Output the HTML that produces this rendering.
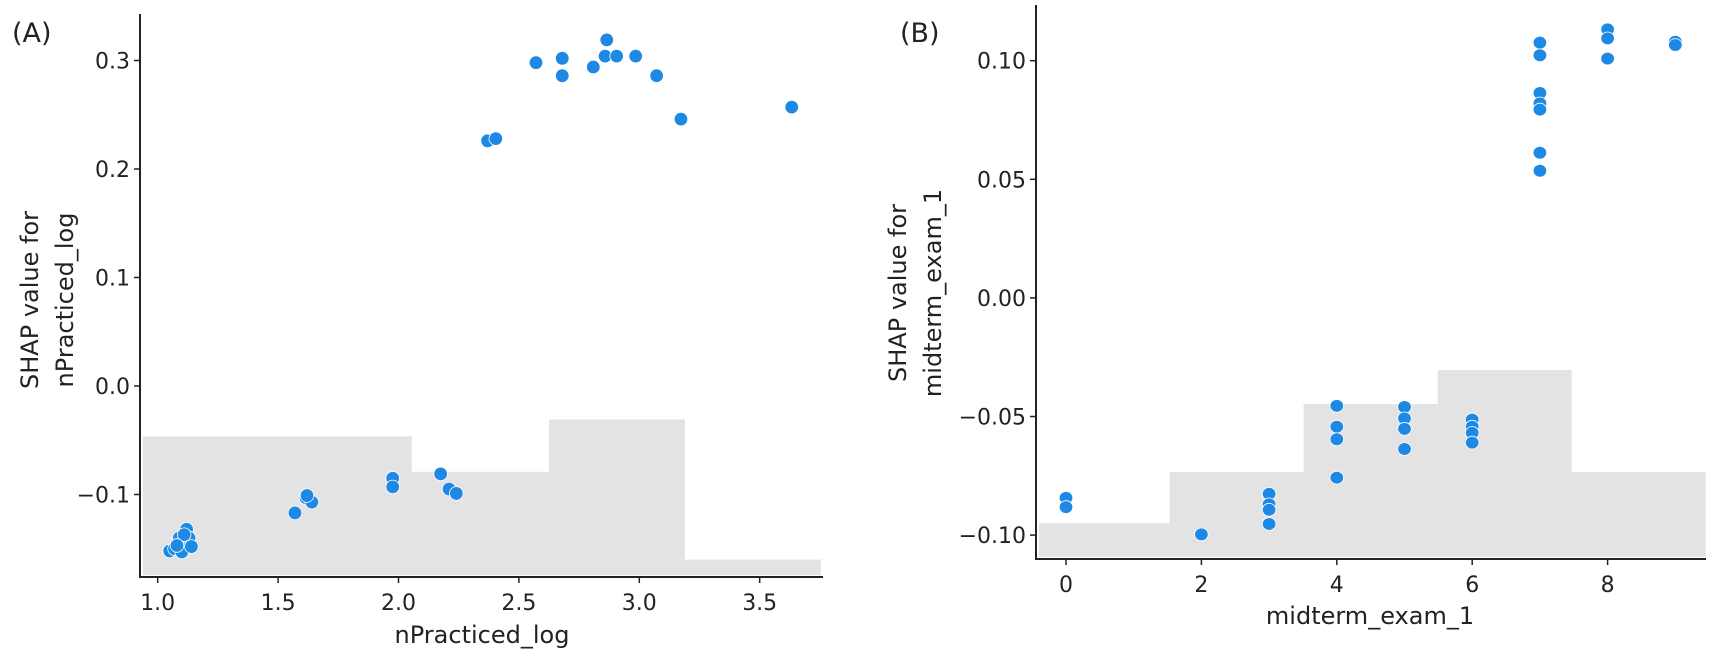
<!DOCTYPE html>
<html><head><meta charset="utf-8">
<style>
html,body{margin:0;padding:0;background:#fff;}
svg{display:block;font-family:"DejaVu Sans","Liberation Sans",sans-serif;}
</style></head>
<body>
<svg id="chart" width="1712" height="655" viewBox="0 0 1712 655"></svg>
<script>
// ---- Panel A data ----
const aX = [1.05,1.07,1.09,1.10,1.12,1.13,1.10,1.14,1.11,1.08,1.57,1.616,1.64,1.62,1.976,1.976,2.175,2.21,2.24,2.37,2.404,2.571,2.68,2.68,2.809,2.865,2.858,2.906,2.985,3.072,3.173,3.633];
const aY = [-0.152,-0.150,-0.140,-0.146,-0.132,-0.140,-0.153,-0.148,-0.137,-0.147,-0.117,-0.103,-0.107,-0.101,-0.085,-0.093,-0.081,-0.095,-0.099,0.226,0.228,0.298,0.302,0.286,0.294,0.319,0.304,0.304,0.304,0.286,0.246,0.257];
const aBinEdges = [0.938,2.055,2.625,3.189,3.754];
const aBinCounts = [9,6.7,10.1,1];
const aXTicks = [1.0,1.5,2.0,2.5,3.0,3.5];
const aXTickLabels = ["1.0","1.5","2.0","2.5","3.0","3.5"];
const aYTicks = [0.3,0.2,0.1,0.0,-0.1];
const aYTickLabels = ["0.3","0.2","0.1","0.0","\u22120.1"];
// ---- Panel B data ----
const bX = [0,0,2,3,3,3,3,4,4,4,4,5,5,5,5,6,6,6,6,7,7,7,7,7,7,7,8,8,8,9,9];
const bY = [-0.0843,-0.0882,-0.0997,-0.0826,-0.0870,-0.0893,-0.0953,-0.0455,-0.0543,-0.0596,-0.0758,-0.046,-0.0508,-0.0552,-0.0637,-0.0513,-0.0543,-0.0569,-0.061,0.1076,0.1023,0.0864,0.082,0.0794,0.0612,0.0536,0.1132,0.1094,0.1009,0.108,0.1066];
const bBinEdges = [-0.4,1.53,3.51,5.49,7.47,9.45];
const bBinCounts = [2,5,9,11,5];
const bXTicks = [0,2,4,6,8];
const bXTickLabels = ["0","2","4","6","8"];
const bYTicks = [0.10,0.05,0.00,-0.05,-0.10];
const bYTickLabels = ["0.10","0.05","0.00","\u22120.05","\u22120.10"];

const NS = "http://www.w3.org/2000/svg";
const svg = document.getElementById("chart");
function mk(tag, attrs, parent, text){
  const e = document.createElementNS(NS, tag);
  for (const k in attrs) e.setAttribute(k, attrs[k]);
  if (text !== undefined) e.textContent = text;
  (parent||svg).appendChild(e);
  return e;
}

function panel(cfg){
  const g = mk("g", {});
  
  
  const sx = v => cfg.x0px + (v - cfg.x0v) * cfg.xs;
  const sy = v => cfg.y0px - v * cfg.ys;
  // histogram
  for (let i = 0; i < cfg.counts.length; i++){
    const xl = sx(cfg.edges[i]), xr = sx(cfg.edges[i+1]);
    const h = cfg.counts[i] * cfg.hpc;
    const r = mk("rect", {x:xl, y:cfg.histBase - h, width:xr - xl, height:h, fill:"#e3e3e3"}, g);
    
    
  }
  // points
  for (let i = 0; i < cfg.px.length; i++){
    const c = mk("ellipse", {cx:sx(cfg.px[i]), cy:sy(cfg.py[i]), rx:6.8, ry:cfg.ry, fill:"#1e88e5", stroke:"#ffffff", "stroke-width":0.8}, g);
    
    
  }
  // spines
  const ax = mk("path", {d:`M${cfg.left} ${cfg.top} V${cfg.bottom} H${cfg.right}`, fill:"none", stroke:"#222", "stroke-width":2}, g);
  
  
  // y ticks
  for (let i = 0; i < cfg.yt.length; i++){
    const y = sy(cfg.yt[i]);
    mk("line", {x1:cfg.left - 6, x2:cfg.left, y1:y, y2:y, stroke:"#222", "stroke-width":1.5}, g);
    const t = mk("text", {x:cfg.left - 10, y:y + 8, "text-anchor":"end", "font-size":22, fill:"#222"}, g, cfg.ytl[i]);
    
    
  }
  // x ticks
  for (let i = 0; i < cfg.xt.length; i++){
    const x = sx(cfg.xt[i]);
    mk("line", {x1:x, x2:x, y1:cfg.bottom, y2:cfg.bottom + 6, stroke:"#222", "stroke-width":1.5}, g);
    const t = mk("text", {x:x, y:cfg.bottom + 33, "text-anchor":"middle", "font-size":22, fill:"#222"}, g, cfg.xtl[i]);
    
    
  }
  const xt = mk("text", {x:cfg.xTitleX, y:cfg.xTitleY, "text-anchor":"middle", "font-size":24, fill:"#222"}, g, cfg.xTitle);
  
  
  const yt = mk("text", {transform:`translate(${cfg.yTitleX},${cfg.yTitleY}) rotate(-90)`, "text-anchor":"middle", "font-size":24, fill:"#222"}, g);
  
  
  mk("tspan", {x:0, dy:0}, yt, "SHAP value for");
  mk("tspan", {x:0, dy:35}, yt, cfg.yTitle2);
  const pl = mk("text", {x:cfg.labX, y:42, "font-size":27, fill:"#222"}, g, cfg.lab);
  
  
}

panel({name:"panel-a", x0px:157.7, x0v:1.0, xs:240.8, y0px:386, ys:1085,
  left:140, right:823, top:14, bottom:577, histBase:575, hpc:15.4, ry:6.8,
  edges:aBinEdges, counts:aBinCounts, px:aX, py:aY,
  xt:aXTicks, xtl:aXTickLabels, yt:aYTicks, ytl:aYTickLabels,
  xTitle:"nPracticed_log", xTitleX:482, xTitleY:643, yTitleX:38, yTitleY:300, yTitle2:"nPracticed_log",
  lab:"(A)", labX:12});
panel({name:"panel-b", x0px:1066, x0v:0, xs:67.7, y0px:297.9, ys:2372,
  left:1036, right:1706, top:5, bottom:559, histBase:557, hpc:17, ry:6.4,
  edges:bBinEdges, counts:bBinCounts, px:bX, py:bY,
  xt:bXTicks, xtl:bXTickLabels, yt:bYTicks, ytl:bYTickLabels,
  xTitle:"midterm_exam_1", xTitleX:1370, xTitleY:624, yTitleX:906, yTitleY:293, yTitle2:"midterm_exam_1",
  lab:"(B)", labX:900});
</script>
</body></html>
